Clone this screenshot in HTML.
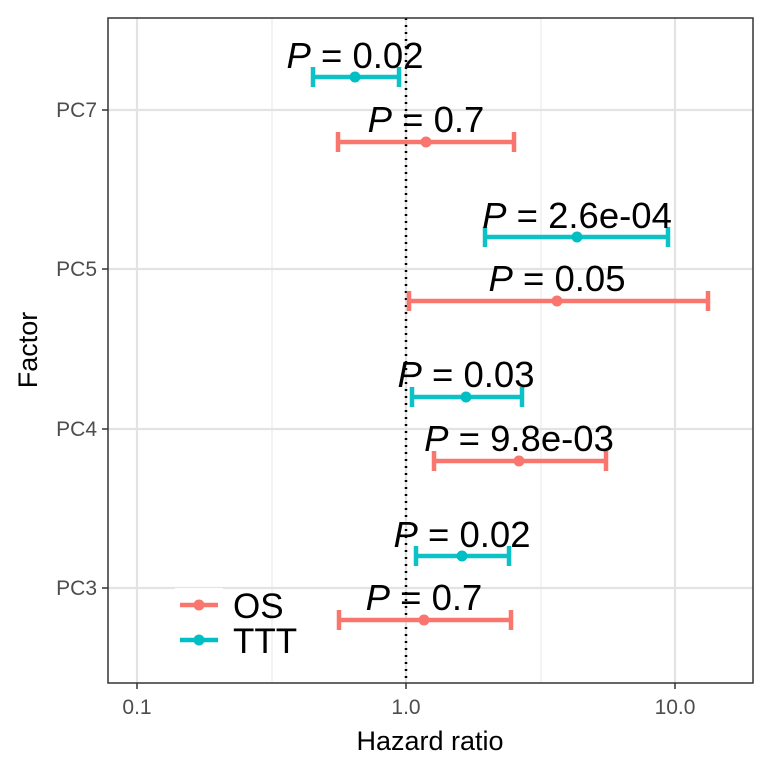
<!DOCTYPE html>
<html><head><style>body{margin:0;background:#fff}svg{display:block}</style></head><body>
<svg width="768" height="768" xmlns="http://www.w3.org/2000/svg" font-family="Liberation Sans, sans-serif">
<rect x="0" y="0" width="768" height="768" fill="#fff"/>
<g stroke="#ebebeb" stroke-width="1.2">
<line x1="272" y1="18" x2="272" y2="683"/><line x1="541" y1="18" x2="541" y2="683"/>
</g>
<g stroke="#e3e3e3" stroke-width="2.2">
<line x1="137" y1="18" x2="137" y2="683"/><line x1="406" y1="18" x2="406" y2="683"/><line x1="675" y1="18" x2="675" y2="683"/>
<line x1="108" y1="110" x2="753" y2="110"/><line x1="108" y1="269" x2="753" y2="269"/><line x1="108" y1="429" x2="753" y2="429"/><line x1="108" y1="588" x2="753" y2="588"/>
</g>
<line x1="406" y1="18" x2="406" y2="683" stroke="#000" stroke-width="2.5" stroke-dasharray="2,5"/>
<g stroke-width="4.5" fill="none">
<g stroke="#00BFC4" stroke-opacity="0.95">
<path d="M313 77H399M313 67V87M399 67V87"/>
<path d="M485 237H668M485 227V247M668 227V247"/>
<path d="M412 397H522M412 387V407M522 387V407"/>
<path d="M416 556H509M416 546V566M509 546V566"/>
</g>
<g stroke="#F8766D">
<path d="M338 142H514M338 132V152M514 132V152"/>
<path d="M409 301H708M409 291V311M708 291V311"/>
<path d="M434 461H606M434 451V471M606 451V471"/>
<path d="M339 620H511M339 610V630M511 610V630"/>
</g>
</g>
<g fill="#00BFC4"><circle cx="355" cy="77" r="5.5"/><circle cx="577" cy="237" r="5.5"/><circle cx="466" cy="397" r="5.5"/><circle cx="462" cy="556" r="5.5"/></g>
<g fill="#F8766D"><circle cx="426" cy="142" r="5.5"/><circle cx="557" cy="301" r="5.5"/><circle cx="519" cy="461" r="5.5"/><circle cx="424" cy="620" r="5.5"/></g>
<g font-size="36.5" text-anchor="middle" fill="#000">
<text x="355" y="68"><tspan font-style="italic">P</tspan> = 0.02</text>
<text x="426" y="132"><tspan font-style="italic">P</tspan> = 0.7</text>
<text x="577" y="228"><tspan font-style="italic">P</tspan> = 2.6e-04</text>
<text x="557" y="291"><tspan font-style="italic">P</tspan> = 0.05</text>
<text x="466" y="387"><tspan font-style="italic">P</tspan> = 0.03</text>
<text x="519" y="451"><tspan font-style="italic">P</tspan> = 9.8e-03</text>
<text x="462" y="547"><tspan font-style="italic">P</tspan> = 0.02</text>
<text x="424" y="610"><tspan font-style="italic">P</tspan> = 0.7</text>
</g>
<rect x="175" y="588" width="48" height="64" fill="#fff"/>
<line x1="180" y1="605" x2="218" y2="605" stroke="#F8766D" stroke-width="4.5"/><circle cx="199" cy="605" r="5.5" fill="#F8766D"/>
<line x1="180" y1="640" x2="218" y2="640" stroke="#00BFC4" stroke-width="4.5"/><circle cx="199" cy="640" r="5.5" fill="#00BFC4"/>
<text x="233" y="618" font-size="35">OS</text>
<text x="233" y="653" font-size="35">TTT</text>
<rect x="108" y="18" width="645" height="665" fill="none" stroke="#333" stroke-width="1.5"/>
<g stroke="#333" stroke-width="1.5">
<line x1="102" y1="110" x2="108" y2="110"/><line x1="102" y1="269" x2="108" y2="269"/><line x1="102" y1="429" x2="108" y2="429"/><line x1="102" y1="588" x2="108" y2="588"/>
<line x1="137" y1="683" x2="137" y2="689"/><line x1="406" y1="683" x2="406" y2="689"/><line x1="675" y1="683" x2="675" y2="689"/>
</g>
<g font-size="21" fill="#4d4d4d" text-anchor="end">
<text x="97" y="117">PC7</text><text x="97" y="276">PC5</text><text x="97" y="436">PC4</text><text x="97" y="595">PC3</text>
</g>
<g font-size="21" fill="#4d4d4d" text-anchor="middle">
<text x="137" y="714">0.1</text><text x="406" y="714">1.0</text><text x="675" y="714">10.0</text>
</g>
<text x="430" y="750" font-size="27" text-anchor="middle">Hazard ratio</text>
<text transform="translate(37,350) rotate(-90)" font-size="27" text-anchor="middle">Factor</text>
</svg>
</body></html>
